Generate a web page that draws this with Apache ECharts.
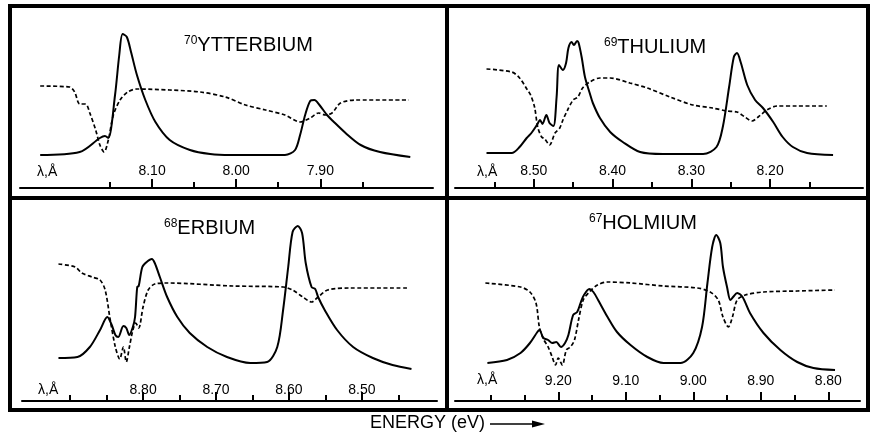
<!DOCTYPE html>
<html>
<head>
<meta charset="utf-8">
<script src="https://cdn.jsdelivr.net/npm/echarts@6/dist/echarts.min.js"></script>
<style>
  html, body { margin: 0; padding: 0; background: #fff; }
  #chart { width: 877px; height: 437px; }
</style>
</head>
<body>
<div id="chart"></div>
<script>
// element names and atomic numbers, one per panel
const elements = ["YTTERBIUM", "THULIUM", "ERBIUM", "HOLMIUM"];
const atomicNumbers = ["70", "69", "68", "67"];

// [wavelength (Å), intensity (arb.)]
const ybSolid = [
  [8.233, 33], [8.186, 36], [8.162, 50], [8.156, 52], [8.152, 50], [8.144, 93], [8.139, 133],
  [8.135, 154], [8.130, 151], [8.125, 136], [8.118, 113], [8.108, 88], [8.096, 66], [8.079, 48],
  [8.055, 38], [8.031, 34], [8.007, 33], [7.942, 33], [7.930, 38], [7.924, 53], [7.918, 73],
  [7.912, 87], [7.907, 88], [7.901, 83], [7.892, 73], [7.885, 67], [7.870, 55], [7.852, 43],
  [7.829, 36], [7.793, 31]
];
const ybDashed = [
  [8.233, 102], [8.198, 101], [8.192, 96], [8.186, 84], [8.179, 84], [8.174, 75], [8.167, 58],
  [8.162, 43], [8.157, 36], [8.152, 48], [8.146, 73], [8.138, 88], [8.129, 96], [8.118, 99],
  [8.079, 98], [8.043, 96], [8.013, 91], [7.989, 83], [7.965, 78], [7.942, 73], [7.924, 66],
  [7.912, 70], [7.902, 75], [7.894, 73], [7.886, 75], [7.876, 85], [7.858, 88], [7.795, 88]
];

const tmSolid = [
  [8.560, 35], [8.528, 35], [8.518, 41], [8.509, 50], [8.503, 55], [8.496, 63], [8.492, 68],
  [8.489, 64], [8.484, 73], [8.480, 65], [8.475, 62], [8.471, 91], [8.468, 123], [8.463, 118],
  [8.459, 125], [8.456, 140], [8.452, 146], [8.449, 143], [8.445, 147], [8.443, 145], [8.439, 130],
  [8.435, 111], [8.429, 95], [8.425, 85], [8.416, 70], [8.403, 56], [8.387, 46], [8.365, 36],
  [8.336, 34], [8.285, 34], [8.268, 41], [8.260, 61], [8.252, 101], [8.246, 131], [8.242, 135],
  [8.237, 125], [8.229, 103], [8.219, 88], [8.209, 80], [8.196, 66], [8.184, 51], [8.171, 41],
  [8.153, 35], [8.120, 33]
];
const tmDashed = [
  [8.560, 119], [8.528, 116], [8.518, 110], [8.508, 98], [8.504, 93], [8.499, 81], [8.495, 61],
  [8.490, 51], [8.486, 49], [8.480, 43], [8.473, 55], [8.467, 60], [8.463, 68], [8.457, 78],
  [8.450, 88], [8.444, 91], [8.438, 100], [8.429, 106], [8.416, 110], [8.403, 110], [8.378, 105],
  [8.356, 100], [8.327, 91], [8.298, 83], [8.273, 80], [8.255, 77], [8.242, 76], [8.232, 71],
  [8.223, 67], [8.215, 71], [8.204, 78], [8.191, 82], [8.166, 82], [8.128, 82]
];

const erSolid = [
  [8.916, 43], [8.890, 44], [8.873, 54], [8.859, 71], [8.849, 84], [8.843, 76], [8.838, 66],
  [8.834, 64], [8.827, 75], [8.823, 73], [8.819, 66], [8.814, 74], [8.811, 84], [8.808, 114],
  [8.806, 115], [8.801, 134], [8.795, 139], [8.788, 142], [8.784, 138], [8.777, 124], [8.767, 104],
  [8.753, 84], [8.736, 68], [8.712, 54], [8.685, 44], [8.653, 38], [8.630, 39], [8.616, 54],
  [8.608, 91], [8.601, 134], [8.595, 169], [8.588, 175], [8.582, 168], [8.577, 138], [8.569, 114],
  [8.564, 112], [8.560, 104], [8.551, 91], [8.534, 71], [8.512, 54], [8.485, 43], [8.458, 36],
  [8.432, 32]
];
const erDashed = [
  [8.916, 137], [8.893, 134], [8.884, 128], [8.870, 124], [8.859, 121], [8.852, 111], [8.845, 81],
  [8.838, 54], [8.832, 42], [8.827, 54], [8.823, 39], [8.819, 53], [8.814, 71], [8.810, 78],
  [8.806, 73], [8.800, 94], [8.793, 111], [8.784, 117], [8.767, 118], [8.677, 115], [8.608, 114],
  [8.595, 111], [8.581, 104], [8.569, 99], [8.560, 104], [8.547, 111], [8.516, 113], [8.438, 113]
];

const hoSolid = [
  [9.305, 38], [9.276, 41], [9.256, 48], [9.242, 58], [9.231, 69], [9.228, 71], [9.222, 63],
  [9.215, 61], [9.209, 58], [9.203, 59], [9.196, 54], [9.190, 58], [9.185, 66], [9.178, 86],
  [9.172, 89], [9.167, 98], [9.162, 106], [9.154, 112], [9.148, 109], [9.141, 101], [9.127, 84],
  [9.113, 69], [9.093, 56], [9.068, 44], [9.044, 38], [9.019, 38], [9.000, 48], [8.987, 74],
  [8.979, 118], [8.972, 154], [8.966, 166], [8.960, 158], [8.956, 134], [8.950, 114], [8.945, 101],
  [8.941, 104], [8.935, 108], [8.927, 104], [8.916, 88], [8.896, 68], [8.871, 51], [8.846, 39],
  [8.822, 33], [8.790, 31]
];
const hoDashed = [
  [9.308, 118], [9.256, 114], [9.242, 109], [9.233, 98], [9.228, 74], [9.222, 62], [9.215, 54],
  [9.209, 44], [9.204, 36], [9.200, 43], [9.194, 36], [9.188, 51], [9.182, 54], [9.176, 61],
  [9.170, 81], [9.163, 101], [9.154, 109], [9.142, 116], [9.127, 119], [9.093, 118], [9.044, 115],
  [8.994, 113], [8.975, 109], [8.963, 101], [8.956, 84], [8.948, 74], [8.942, 84], [8.935, 101],
  [8.923, 106], [8.896, 109], [8.846, 110], [8.790, 111]
];

// wavelength axes: extent, tick marks, labelled ticks
const ybRange = [7.766, 8.257];
const tmRange = [8.082, 8.600];
const erRange = [8.397, 8.966];
const hoRange = [8.753, 9.353];
const ybTicks = [8.15, 8.10, 8.05, 8.00, 7.95, 7.90, 7.85];
const tmTicks = [8.55, 8.50, 8.45, 8.40, 8.35, 8.30, 8.25, 8.20, 8.15];
const erTicks = [8.90, 8.85, 8.80, 8.75, 8.70, 8.65, 8.60, 8.55, 8.50, 8.45];
const hoTicks = [9.30, 9.25, 9.20, 9.15, 9.10, 9.05, 9.00, 8.95, 8.90, 8.85, 8.80];
const ybLabels = [8.10, 8.00, 7.90];
const tmLabels = [8.50, 8.40, 8.30, 8.20];
const erLabels = [8.80, 8.70, 8.60, 8.50];
const hoLabels = [9.20, 9.10, 9.00, 8.90, 8.80];

const panels = [
  { solid: ybSolid, dashed: ybDashed, range: ybRange, ticks: ybTicks, labels: ybLabels,
    grid: { left: 20, width: 413, top: 10, height: 178 }, margin: 10, title: [184, 35], lam: [37, 165] },
  { solid: tmSolid, dashed: tmDashed, range: tmRange, ticks: tmTicks, labels: tmLabels,
    grid: { left: 455, width: 408, top: 10, height: 178 }, margin: 10, title: [604, 37], lam: [477, 165] },
  { solid: erSolid, dashed: erDashed, range: erRange, ticks: erTicks, labels: erLabels,
    grid: { left: 22, width: 415, top: 203, height: 198 }, margin: 4, title: [164, 218], lam: [38, 383] },
  { solid: hoSolid, dashed: hoDashed, range: hoRange, ticks: hoTicks, labels: hoLabels,
    grid: { left: 455, width: 405, top: 203, height: 198 }, margin: 13, title: [589, 213], lam: [477, 373] }
];

const font = "Liberation Sans";
const grids = [], xAxes = [], yAxes = [], series = [], titles = [], graphics = [];

panels.forEach((p, i) => {
  grids.push(p.grid);
  xAxes.push({
    type: "value", gridIndex: i, position: "bottom", inverse: true,
    min: p.range[0], max: p.range[1],
    axisLine: { show: true, lineStyle: { color: "#000", width: 2 } },
    axisTick: { show: true, inside: true, length: 6, customValues: p.ticks, lineStyle: { color: "#000", width: 2 } },
    axisLabel: {
      show: true, inside: true, margin: p.margin, customValues: p.labels,
      formatter: (v) => Number(v).toFixed(2), color: "#000", fontSize: 14, fontFamily: font
    },
    splitLine: { show: false }
  });
  // second axis only for the taller ticks under the labels
  xAxes.push({
    type: "value", gridIndex: i, position: "bottom", inverse: true,
    min: p.range[0], max: p.range[1],
    axisLine: { show: false },
    axisTick: { show: true, inside: true, length: 9, customValues: p.labels, lineStyle: { color: "#000", width: 2 } },
    axisLabel: { show: false },
    splitLine: { show: false }
  });
  yAxes.push({ type: "value", gridIndex: i, show: false, min: 0, max: p.grid.height });
  series.push({
    type: "line", xAxisIndex: 2 * i, yAxisIndex: i, data: p.solid,
    showSymbol: false, smooth: 0.3, lineStyle: { color: "#000", width: 2 }
  });
  series.push({
    type: "line", xAxisIndex: 2 * i, yAxisIndex: i, data: p.dashed,
    showSymbol: false, smooth: 0.3, lineStyle: { color: "#000", width: 1.7, type: [4, 2.5] }
  });
  titles.push({
    text: "{s|" + atomicNumbers[i] + "}{n|" + elements[i] + "}",
    left: p.title[0], top: p.title[1], padding: 0,
    textStyle: {
      fontWeight: "normal",
      rich: {
        s: { fontSize: 12, fontFamily: font, fontWeight: "normal", color: "#000", verticalAlign: "top", lineHeight: 12 },
        n: { fontSize: 20, fontFamily: font, fontWeight: "normal", color: "#000", verticalAlign: "bottom", lineHeight: 20, padding: [6, 0, 0, 0] }
      }
    }
  });
  graphics.push({
    type: "text", left: p.lam[0], top: p.lam[1],
    style: { text: "λ,Å", fontSize: 14, fontFamily: font, fill: "#000" }
  });
});

// panel frames and the energy arrow
graphics.push(
  { type: "rect", shape: { x: 10, y: 6, width: 858, height: 404 }, style: { fill: "none", stroke: "#000", lineWidth: 4 } },
  { type: "line", shape: { x1: 447, y1: 6, x2: 447, y2: 410 }, style: { stroke: "#000", lineWidth: 4 } },
  { type: "line", shape: { x1: 10, y1: 198, x2: 868, y2: 198 }, style: { stroke: "#000", lineWidth: 4 } },
  { type: "text", left: 370, top: 414, style: { text: "ENERGY (eV)", fontSize: 18, fontFamily: font, fill: "#000" } },
  { type: "line", shape: { x1: 490, y1: 424, x2: 536, y2: 424 }, style: { stroke: "#000", lineWidth: 1.5 } },
  { type: "polygon", shape: { points: [[532, 420.5], [545, 424], [532, 427.5]] }, style: { fill: "#000" } }
);

const chart = echarts.init(document.getElementById("chart"));
chart.setOption({
  animation: false,
  backgroundColor: "#fff",
  title: titles,
  grid: grids,
  xAxis: xAxes,
  yAxis: yAxes,
  series: series,
  graphic: graphics
});
</script>
</body>
</html>
